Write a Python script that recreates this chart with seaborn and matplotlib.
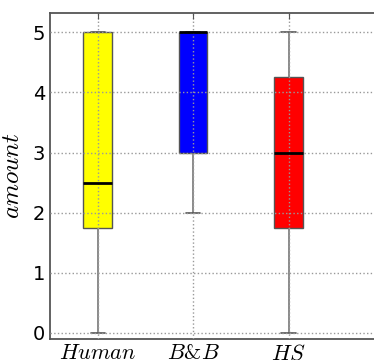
import numpy as np
import pandas as pd
import seaborn as sns
import matplotlib.pyplot as plt

human = [0, 1, 2, 2, 3, 5, 5, 5]
bnb = [2, 3, 3, 5, 5, 5, 5, 5]
hs = [0, 1, 2, 3, 3, 4, 5, 5]

labels = ["$Human$", "$B&B$", "$HS$"]
colors = ["yellow", "blue", "red"]

df = pd.DataFrame({
    "method": [labels[0]] * len(human) + [labels[1]] * len(bnb) + [labels[2]] * len(hs),
    "amount": human + bnb + hs,
})

sns.set_style("white")
plt.rcParams["mathtext.fontset"] = "cm"
plt.rcParams["font.family"] = ["DejaVu Sans"]

fig = plt.figure(figsize=(3.74, 3.6), dpi=100)
ax = fig.add_axes([50 / 374, 21 / 360, 334 / 374, 326 / 360])

sns.boxplot(data=df, x="method", y="amount", hue="method", palette=colors,
            legend=False, width=0.3, saturation=1, linecolor="#555555",
            linewidth=1.0, whis=1.5, ax=ax,
            whiskerprops=dict(color="#777777", linewidth=1.2),
            capprops=dict(color="#555555", linewidth=1.2),
            medianprops=dict(color="black", linewidth=2, zorder=5),
            showfliers=False)

ax.set_xlim(-0.5, 3.0)
ax.set_ylim(-0.1, 5.32)
ax.set_yticks([0, 1, 2, 3, 4, 5])
ax.set_xlabel("")
ax.set_ylabel("$amount$", fontsize=18, labelpad=6, color="black")
ax.grid(True, linestyle=":", color="#999999", linewidth=1)
ax.set_axisbelow(False)
ax.tick_params(axis="y", labelsize=14, direction="in", right=True, length=4,
               color="#555555", labelcolor="black")
ax.tick_params(axis="x", labelsize=16, direction="in", top=True, length=4,
               color="#555555", labelcolor="black", pad=3)
for s in ax.spines.values():
    s.set_visible(True)
    s.set_color("#555555")
    s.set_linewidth(1.3)

fig.savefig("out.png", dpi=100)
